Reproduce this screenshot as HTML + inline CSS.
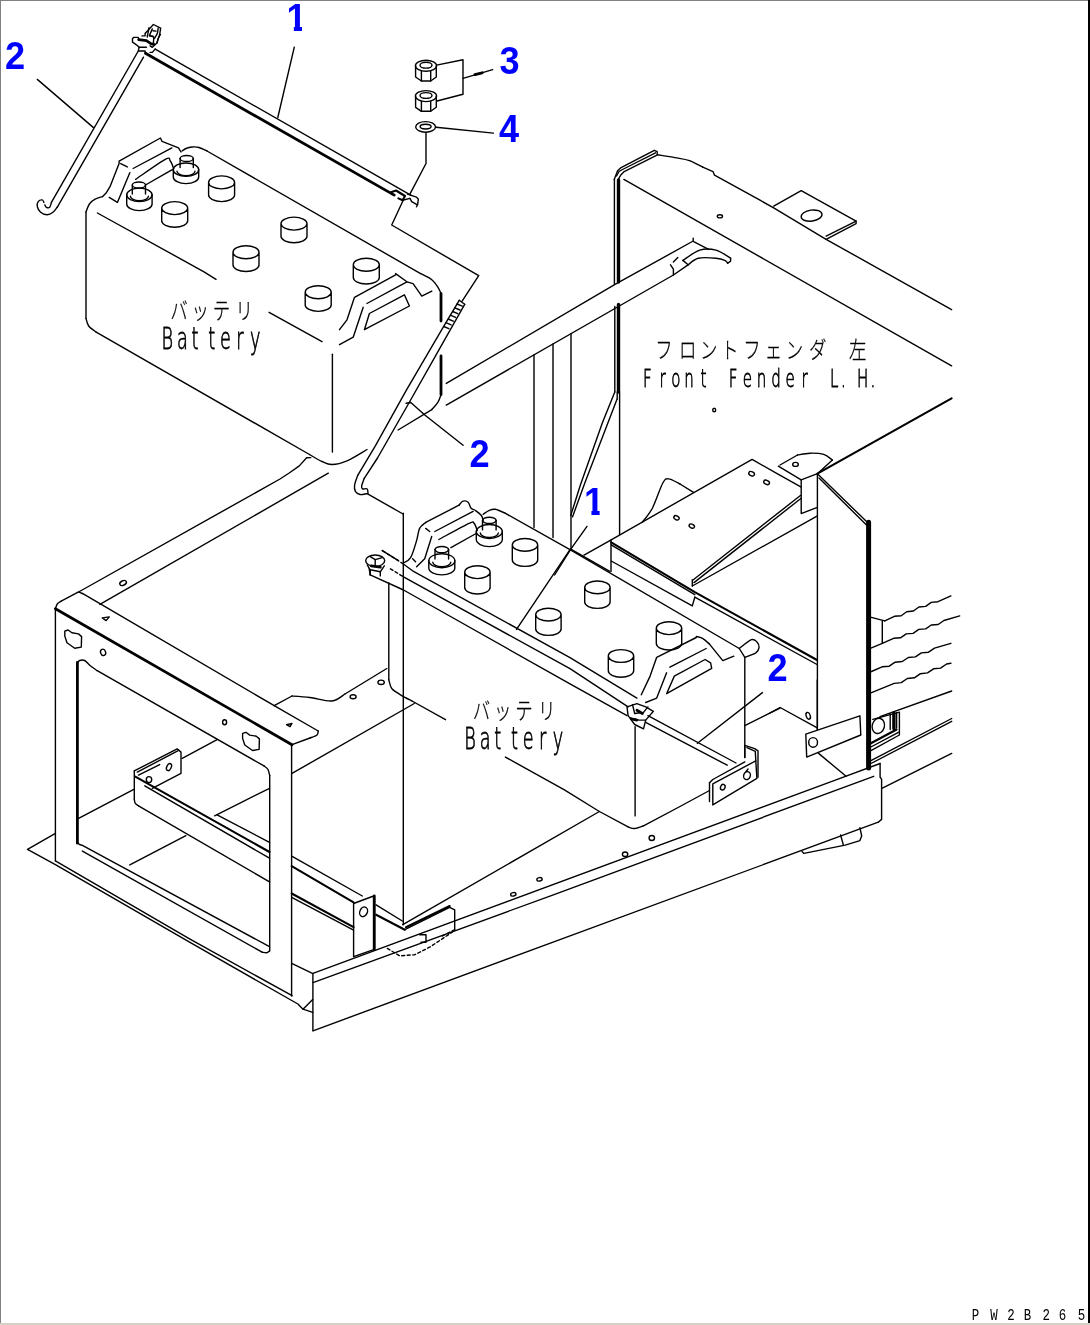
<!DOCTYPE html>
<html lang="ja"><head><meta charset="utf-8"><title>Battery</title>
<style>
html,body{margin:0;padding:0;background:#fff}
body{width:1090px;height:1325px;position:relative;overflow:hidden}
.b{position:absolute}
svg{position:absolute;left:0;top:0;will-change:transform}
.k{fill:none;stroke:#000;stroke-width:1.4;stroke-linecap:round;stroke-linejoin:round}
.k2{stroke-width:2.1}.k3{stroke-width:2.8}.k4{stroke-width:5}.k5{stroke-width:3.4}.k6{stroke-dasharray:3 2.5}
.n{font:bold 38.5px "Liberation Sans",sans-serif;fill:#00f}
.la{font-family:"DejaVu Sans","Liberation Sans",sans-serif;font-weight:200;fill:#000;stroke:#000;stroke-width:0.8px}
.jp{font-family:"Liberation Sans","Noto Sans CJK JP",sans-serif;font-weight:300;fill:#000;stroke:#000;stroke-width:0.25px}
.pw{font-family:"Liberation Mono",monospace;fill:#000}
</style></head><body>
<div class="b" style="left:0;top:0;width:1090px;height:1px;background:#808080"></div><div class="b" style="left:0;top:0;width:1px;height:1323px;background:#808080"></div><div class="b" style="left:1088px;top:0;width:2px;height:1323px;background:#000"></div><div class="b" style="left:0;top:1323px;width:1090px;height:2px;background:#d4d0c8"></div>
<svg width="1090" height="1325" viewBox="0 0 1090 1325">
<g class="k">
<path d="M37.3 79.4 L93.5 127.6"/>
<path d="M138.3 51 L51.4 202.4"/>
<path d="M143.5 57.2 L57.2 207.3"/>
<path d="M57.2 207.3 C56.5 208.1 54.7 211.1 53 212.3 C51.3 213.6 49.3 214.8 47.2 214.8 C45.1 214.8 42.2 213.7 40.6 212.3 C39.0 210.9 37.7 208.3 37.3 206.5 C36.9 204.7 37.4 202.7 38.2 201.6 C39.0 200.5 41.3 199.8 42.3 199.9 C43.2 200.0 43.6 202.0 43.9 202.4"/>
<path d="M51.4 202.4 C51.1 203.2 50.5 206.5 49.7 207.3 C48.9 208.1 47.2 207.7 46.4 207.3 C45.6 206.9 45.1 205.3 44.8 204.9"/>
<path d="M139.1 39.2 L138 37.4 L133.9 37.4 L132.5 38.5 L132.5 42.2 L134.7 43.6 L137.6 45.8 L139.1 47.3 L138.3 51 L145 51 L145.7 53.2"/>
<path d="M139.1 47.3 L146.4 47.3"/>
<path d="M145.3 33.3 L153.4 24.5 L160.7 28.2 L159.6 34.8 L156.7 43.3 L152.3 47.3 L150.1 45.8"/>
<path d="M149 27.8 L147.2 37"/>
<path d="M152.3 28.9 L149.4 35.6 L153.8 37 L153.4 43.6"/>
<path d="M158.2 28.2 L157.4 33.3 L154.5 38.5"/>
<path d="M160.4 34.4 L158.2 38.5 L157.1 42.9"/>
<path d="M142 35.9 L145 35.9 L145.3 33.3"/>
<path d="M149.4 35.9 L153 36.3"/>
<path d="M153 30.8 L156 31.1"/>
<path d="M150.1 52.4 L152.3 52.4 L155.2 49.1"/>
<path d="M155.2 49.1 L410.7 195.1"/>
<path d="M294.3 47.1 L277.8 117.5"/>
<path d="M86 318.5 C86.5 319.8 87.0 323.7 88.7 326 C90.4 328.3 95.0 331.2 96.2 332.2"/>
<path d="M86 212 L86 318.5"/>
<path d="M96.2 332.2 L309.5 454.5"/>
<path d="M309.5 454.5 C311.6 455.7 318.2 459.8 322 461.5 C325.8 463.2 327.8 464.6 332 464.5 C336.2 464.4 341.2 463.3 347 460.8 C352.8 458.3 363.7 451.4 367 449.5"/>
<path d="M398.1 430 L431.8 409.6"/>
<path d="M431.8 409.6 C432.8 408.4 436.5 404.6 438 402.1 C439.5 399.6 440.5 395.9 441 394.6"/>
<path d="M441 293.6 C440.5 292.6 439.5 289.6 438 287.3 C436.5 285.0 434.7 282.1 431.8 279.8 C428.9 277.5 422.5 274.6 420.6 273.6"/>
<path d="M420.6 273.6 L207 151"/>
<path d="M207 151 C205.7 150.4 201.5 148.2 199 147.5 C196.5 146.8 194.2 146.8 192 147 C189.8 147.2 187.7 147.8 186 148.5 C184.3 149.2 182.7 150.6 182 151"/>
<path d="M86 212 C86.6 210.7 87.9 206.2 89.4 204 C90.9 201.8 92.9 200.3 95.1 199.1 C97.3 197.9 101.3 197.0 102.6 196.6"/>
<path d="M102.6 196.6 L105.9 193.3 L110 186.7 L119.1 163.6 L119.1 161.1 L160.4 138 L162 141.3 L178.5 147.9 L181 152"/>
<path d="M97.4 213 L204 271.8 L216 279.3"/>
<path d="M269.1 312.3 L322 341.7"/>
<path d="M332.4 354.2 L332.4 452"/>
<path d="M120.7 163.6 L127.3 166.9"/>
<path d="M133.1 168.5 L171.9 147.9"/>
<path d="M129.8 172.7 L117.4 202.4 L109.2 197.4"/>
<path d="M135.6 179.3 C140.6 176.0 159.5 162.4 165.3 159.4 C171.1 156.4 168.9 159.6 170.3 161.1 C171.7 162.6 173.1 167.3 173.6 168.5"/>
<path d="M145.5 185 L167 172.7 L172.8 169.4"/>
<path d="M132.3 185 L132.3 194"/>
<path d="M145.5 185 L145.5 194"/>
<path d="M126.7 194.8 L126.7 203.9 A12.7 6.7 0 0 0 152.1 203.9 L152.1 194.8"/>
<path d="M130.4 196.3 A9 4.5 0 0 0 148.4 196.3"/>
<path d="M180.1 158.5 L180.1 167.5"/>
<path d="M193.3 158.5 L193.3 167.5"/>
<path d="M173.3 169.7 L173.3 176.9 A12.7 6.7 0 0 0 198.7 176.9 L198.7 169.7"/>
<path d="M177 171.2 A9 4.5 0 0 0 195 171.2"/>
<path d="M208.6 182.4 A13.0 6.5 0 1 1 234.6 182.4 L234.6 195.1 A13.0 6.5 0 0 1 208.6 195.1 Z M208.6 182.4 A13.0 6.5 0 0 0 234.6 182.4"/>
<path d="M161.7 208.1 A13.0 6.5 0 1 1 187.7 208.1 L187.7 220.8 A13.0 6.5 0 0 1 161.7 220.8 Z M161.7 208.1 A13.0 6.5 0 0 0 187.7 208.1"/>
<path d="M233.0 252.3 A13.0 6.5 0 1 1 259.0 252.3 L259.0 265.0 A13.0 6.5 0 0 1 233.0 265.0 Z M233.0 252.3 A13.0 6.5 0 0 0 259.0 252.3"/>
<path d="M281.0 223.6 A13.0 6.5 0 1 1 307.0 223.6 L307.0 236.3 A13.0 6.5 0 0 1 281.0 236.3 Z M281.0 223.6 A13.0 6.5 0 0 0 307.0 223.6"/>
<path d="M353.3 264.8 A13.0 6.5 0 1 1 379.3 264.8 L379.3 277.5 A13.0 6.5 0 0 1 353.3 277.5 Z M353.3 264.8 A13.0 6.5 0 0 0 379.3 264.8"/>
<path d="M305.2 292.2 A13.0 6.5 0 1 1 331.2 292.2 L331.2 304.9 A13.0 6.5 0 0 1 305.2 304.9 Z M305.2 292.2 A13.0 6.5 0 0 0 331.2 292.2"/>
<path d="M395.6 273.6 L406.9 281.8 L413.1 283.6 L421.8 296.1 L431.8 291.1"/>
<path d="M395.6 274.8 L354.5 297.3 L347 319.8 L339.5 329.7"/>
<path d="M406.9 281.8 L366.9 303.5"/>
<path d="M404.4 294.8 L369.4 313.5 L364.4 329.7 L409.4 306 Z"/>
<path d="M363.2 307.3 L353.2 337.2 L339.5 344.7"/>
<path d="M415.6 65.8 L415.6 77 L421.4 81 L430.7 81 L436.3 77 L436.3 65.8"/>
<path d="M421.4 71 L421.4 81"/>
<path d="M430.7 71 L430.7 81"/>
<path d="M415.6 96.1 L415.6 107.3 L421.4 111.3 L430.7 111.3 L436.3 107.3 L436.3 96.1"/>
<path d="M421.4 101.3 L421.4 111.3"/>
<path d="M430.7 101.3 L430.7 111.3"/>
<path d="M436.6 65.1 L463 59.8 L463 94.2 L437 101"/>
<path d="M463 78.3 L492.7 69.7"/>
<path d="M436 127.2 L493.4 133.1"/>
<path d="M426 132.5 L426 163.5 L409.9 194.2"/>
<path d="M403.2 200.2 L391.7 225 L478.7 275.7 L461.8 301.6"/>
<path d="M407.4 194.2 L416.5 197.2 L418.3 199 L417.7 204.4 L416.5 206.8"/>
<path d="M409.9 198.4 L411.7 201.6 L416.5 204.4"/>
<path d="M402.6 200.2 L409.9 198.4"/>
<path d="M459.2 300.3 L440.9 331.2 L406.1 390.6 L375.2 446.1 L357.7 475.4"/>
<path d="M357.7 475.4 C357.2 477.0 355.0 482.4 354.6 485 C354.2 487.6 354.5 489.7 355.4 491.3 C356.3 492.9 358.2 494.1 360.1 494.5 C362.0 494.9 365.4 493.8 366.5 493.7"/>
<path d="M464.7 304.3 L440.9 346.3 L409.2 402.5 L377.5 458 L364.1 478.6"/>
<path d="M364.1 478.6 C363.7 479.8 362.0 484.0 361.7 485.7 C361.4 487.4 361.6 488.4 362.5 488.9 C363.4 489.4 366.3 488.1 367.2 488.9 C368.1 489.7 367.9 492.9 368 493.7"/>
<path d="M459.2 300.3 L464.7 304.3"/>
<path d="M457 304 L462.2 306.2"/>
<path d="M454.8 307.8 L460 310"/>
<path d="M452.6 311.5 L457.8 313.7"/>
<path d="M450.4 315.2 L455.6 317.4"/>
<path d="M448.1 319 L453.3 321.2"/>
<path d="M445.9 322.7 L451.1 324.9"/>
<path d="M443.7 326.5 L448.9 328.7"/>
<path d="M406.1 403.3 L410.8 402.5 L425.1 415.2 L463.1 445.3"/>
<path d="M367.2 493.7 L403 514"/>
<path d="M446.3 383.4 L614.6 284.7 L693.2 241 L693.2 238.3"/>
<path d="M446.3 405.1 L673.4 275 L688.1 264.8"/>
<path d="M693.2 241.3 L708.6 249.4"/>
<path d="M682.9 260.4 C685.7 258.7 694.3 251.8 699.8 250.1 C705.3 248.4 710.9 248.8 716 250.1 C721.1 251.4 728.2 256.8 730.6 258.2"/>
<path d="M688.1 264.8 C689.8 263.7 693.6 259.3 698.3 258.2 C702.9 257.1 711.6 257.8 716 258.2 C720.4 258.6 722.8 259.5 724.8 260.4 C726.8 261.2 727.2 262.8 727.7 263.3"/>
<path d="M727.7 263.3 L730.6 261.1 L730.6 258.2"/>
<path d="M673.4 275 L673.4 269.2 L670.5 264.8"/>
<path d="M673.4 262 L677.8 257.5"/>
<path d="M682.9 260.4 L688.1 264.8"/>
<path d="M534 354.8 L534 527.5"/>
<path d="M553 344 L553 537.5"/>
<path d="M571 333.6 L571 549"/>
<path d="M614.4 284.5 L614.4 179.6"/>
<path d="M614.8 392 L614.8 306.5"/>
<path d="M617.2 399 L617.2 392"/>
<path d="M619.6 534.5 L619.6 392"/>
<path d="M614.2 179.6 L617.6 170.8 L620.6 167.9 L654.3 150.3 L657.2 151.7 L657.2 154.7"/>
<path d="M618.3 179.6 L620.6 175.2 L624.2 171.6 L656.5 155.4"/>
<path d="M616.5 176 L619 171.5 L622.5 169.5 L655.5 152.8"/>
<path d="M657.2 154.7 C660.2 155.2 669.5 156.6 674.9 157.6 C680.3 158.6 684.9 159.0 689.5 160.6 C694.1 162.2 700.6 166.1 702.8 167.2"/>
<path d="M702.8 167.2 L713 171.6 L714.5 175.2 L760 200.2 L773.7 207.9 L826.1 239.3 L951.6 309.7"/>
<path d="M623.9 179.4 L951.6 365.8"/>
<path d="M773.7 206.1 L801.2 190.6 L856.1 221.1 L856.1 223.6 L826.1 239.3"/>
<path d="M826.1 236.1 L856.1 221.1"/>
<path d="M614.8 392 L602.4 422.7 L580.3 485.2 L570.8 515.4"/>
<path d="M617.1 399.1 L584.8 483 L572.5 516.9"/>
<path d="M587 526.4 L570.8 549.2 L554.6 575"/>
<path d="M55.4 608.7 L55.4 860.7"/>
<path d="M55.4 608.7 C55.7 607.9 56.4 605.0 57.4 603.7 C58.4 602.5 60.6 601.6 61.2 601.2"/>
<path d="M61.2 601.2 L78.6 591.9 L82.4 593.7"/>
<path d="M82.4 593.3 L274.2 705.7 L318.2 731"/>
<path d="M318.2 731 C318.0 731.7 318.4 733.8 317 735 C315.6 736.2 311.2 737.5 310 738"/>
<path d="M310 738 L292 744.7"/>
<path d="M78.6 592 L280 479 L289.2 473 L299.3 465.9 L306.6 457.8 L310.7 457.6"/>
<path d="M99.9 604.4 L328.3 473.2"/>
<path d="M274.2 705.7 L292 696"/>
<path d="M292 696 C295.0 696.2 303.4 696.7 310 697.5 C316.6 698.3 326.1 701.6 331.9 701 C337.7 700.4 342.8 695.2 345 694"/>
<path d="M345 694 L386.8 668.5"/>
<path d="M292 773.4 L414.3 703.5"/>
<path d="M77.4 663 C77.8 662.6 78.4 660.9 79.6 660.5 C80.8 660.1 82.9 659.7 84.6 660.5 C86.3 661.3 87.9 663.8 90 665.5 C92.1 667.2 96.0 669.8 97.2 670.7"/>
<path d="M97.2 670.7 L264 765.9"/>
<path d="M264 765.9 C264.7 766.5 267.1 767.9 268 769.5 C268.9 771.1 269.4 774.5 269.7 775.5"/>
<path d="M269.7 775.5 L269.7 951"/>
<path d="M77.4 842.4 C77.7 842.7 78.6 843.9 79.4 844.4 C80.2 844.9 81.9 845.2 82.4 845.4"/>
<path d="M82.4 845.4 L269.5 946.7"/>
<path d="M82.4 851.1 L262.1 952.2"/>
<path d="M262.1 952.2 C262.9 952.3 265.8 952.9 267 952.7 C268.2 952.5 269.1 951.2 269.5 950.9"/>
<path d="M291.6 744.7 L291.6 996"/>
<path d="M55 833.7 L27.5 849.4 L55.4 864.6 L190 942.4 L297.9 1004 L303 1009.2 L312.7 1012.4"/>
<path d="M55.4 860.9 L190 939.2 L292.1 995.7"/>
<path d="M102.3 617.9 L109.3 616.9 L106.1 620.6 Z"/>
<path d="M64.8 631.1 L68.1 630 L71.9 632.8 L78.5 633.9 L81.6 636.6 L81.3 647.1 L74.7 648.2 L67 642.7 L64.8 636.1 Z"/>
<path d="M242.6 733.4 L245.9 732.3 L249.7 735.1 L256.3 736.2 L259.4 738.9 L259.1 749.4 L252.5 750.5 L244.8 745 L242.6 738.4 Z"/>
<path d="M286.5 724.7 L292 723.4 L290 726.7 Z"/>
<path d="M134.3 770.9 L177.2 748.9 L181 752.1 L181 773.4 L152.3 788.3"/>
<path d="M134.3 770.9 L134.3 799.6"/>
<path d="M134.3 799.6 C134.5 800.2 134.6 802.3 135.3 803.3 C136.0 804.3 138.0 805.4 138.5 805.8"/>
<path d="M138.5 805.8 L269.5 881.9"/>
<path d="M137.3 772.1 L177.7 750.9"/>
<path d="M138.5 775.1 L159.7 764.6"/>
<path d="M144.8 785.8 L269.5 858.2"/>
<path d="M78.6 818.3 L134.3 789.1"/>
<path d="M182.2 758.4 L217.1 739.7"/>
<path d="M214.6 815.8 L269.5 788.3"/>
<path d="M129.8 864.9 L185.9 835.7"/>
<path d="M217.1 814.9 L269.5 842.4"/>
<path d="M403.3 513.3 L403.3 924.7"/>
<path d="M312.9 973.4 L312.9 1030.8"/>
<path d="M313 1030.8 L878.3 822.2"/>
<path d="M313 973.4 L836 779.9 L880.1 763.5"/>
<path d="M313 982.6 L552 895.3 L873.7 776.3"/>
<path d="M291.7 963.4 L312.4 973.4"/>
<path d="M303 1009.2 L312.7 999.5"/>
<path d="M353.6 903.5 L373.6 896 L373.6 949.7 L353.6 956.7 Z"/>
<path d="M291.7 856.1 L362.3 896"/>
<path d="M291.7 897.3 L353.6 930.2"/>
<path d="M376.1 904.8 L402.3 921"/>
<path d="M402.8 924.7 L599.4 811.5"/>
<path d="M404.8 929.7 L449.7 907.3 L454.7 909.8 L454.7 929.7"/>
<path d="M419.7 934.7 L426 934.7 L426 942.2 L421 942.2"/>
<path d="M880.1 763.5 L880.1 777.2 L881.6 779.1 L881.6 819.4 L878.3 822.2"/>
<path d="M859.9 827.7 L861.7 836 L859.9 840.6 L845.2 845.1 L803.9 853.4 L802.1 851.6"/>
<path d="M840.6 835 L843.4 845.1"/>
<path d="M805.8 734.1 L859.9 715.8 L860.8 735 L806.7 757.1 Z"/>
<path d="M818.6 753.4 L846.1 776.3"/>
<path d="M817.3 680 L817.3 729.5"/>
<path d="M770 713 L780.1 707.5 L816.8 727.7"/>
<path d="M388.8 583 L388.8 679.8"/>
<path d="M388.8 679.8 C389.3 681.2 389.9 686.0 391.8 688.5 C393.8 691.0 397.1 692.7 400.5 694.8 C403.9 696.9 410.1 700.0 412 701"/>
<path d="M412 701 L445.5 719.7"/>
<path d="M505.4 757.1 L564 789.6 L599.4 811.5 L628.1 826.9"/>
<path d="M628.1 826.9 C629.2 827.2 632.1 828.7 634.7 828.5 C637.3 828.3 642.0 826.2 643.5 825.8"/>
<path d="M643.5 825.8 L680.9 806 L709.5 790.5"/>
<path d="M635.1 726.7 L635.1 815.9"/>
<path d="M744.8 657.3 L744.8 757.5"/>
<path d="M483.2 514.3 C484.2 513.6 487.3 511.1 489.3 510.3 C491.3 509.5 492.6 508.8 495.3 509.3 C498.0 509.8 503.7 512.6 505.4 513.3"/>
<path d="M505.4 513.3 L570 549.6 L739.3 648.5"/>
<path d="M739.3 648.5 C741.3 647.0 748.5 640.8 751.4 639.7 C754.3 638.6 755.6 640.6 756.9 641.9 C758.2 643.2 759.3 645.6 759.1 647.4 C758.9 649.2 758.2 651.2 755.8 652.9 C753.4 654.5 746.6 656.6 744.8 657.3"/>
<path d="M739.3 648.5 L744.8 657.3"/>
<path d="M403.5 562.8 C404.7 561.9 408.4 561.4 410.6 557.7 C412.8 554.0 415.1 545.5 416.6 540.6 C418.1 535.7 418.1 531.4 419.6 528.4 C421.1 525.4 424.7 523.4 425.7 522.4"/>
<path d="M425.7 522.4 L459 505.2"/>
<path d="M459 505.2 C459.7 504.5 461.5 501.7 463 501.2 C464.5 500.7 466.8 501.0 468.1 502.2 C469.5 503.4 469.9 506.9 471.1 508.3 C472.3 509.7 473.4 509.1 475.1 510.3 C476.8 511.5 479.9 513.6 481.2 515.3 C482.5 517.0 482.9 519.5 483.2 520.4"/>
<path d="M434.8 531.5 L473.1 511.3"/>
<path d="M438.8 539.5 C443.9 536.8 463.2 526.1 469.1 523.4 C475.0 520.7 472.8 522.2 474.1 523.4 C475.5 524.6 476.7 529.3 477.2 530.5"/>
<path d="M450.9 547.6 L476.1 533.5"/>
<path d="M431.7 536.5 L424.7 558.7 L416.6 566.8"/>
<path d="M425.7 528.4 L429.7 531.5"/>
<path d="M412.6 558.7 L415.6 561.7"/>
<path d="M435 549.6 L435 559.1"/>
<path d="M448.6 549.6 L448.6 559.1"/>
<path d="M428.8 560.7 L428.8 567.9 A13 7 0 0 0 454.8 567.9 L454.8 560.7"/>
<path d="M432.8 562.2 A9 4.5 0 0 0 450.8 562.2"/>
<path d="M482.5 520.4 L482.5 529.9"/>
<path d="M496.1 520.4 L496.1 529.9"/>
<path d="M476.3 531.5 L476.3 539.6 A13 7 0 0 0 502.3 539.6 L502.3 531.5"/>
<path d="M480.3 533 A9 4.5 0 0 0 498.3 533"/>
<path d="M512.3 544.9 A12.7 6.4 0 1 1 537.7 544.9 L537.7 560.0 A12.7 6.4 0 0 1 512.3 560.0 Z M512.3 544.9 A12.7 6.4 0 0 0 537.7 544.9"/>
<path d="M464.7 572.2 A12.7 6.4 0 1 1 490.1 572.2 L490.1 587.6 A12.7 6.4 0 0 1 464.7 587.6 Z M464.7 572.2 A12.7 6.4 0 0 0 490.1 572.2"/>
<path d="M535.7 614.6 A12.7 6.4 0 1 1 561.1 614.6 L561.1 629.0 A12.7 6.4 0 0 1 535.7 629.0 Z M535.7 614.6 A12.7 6.4 0 0 0 561.1 614.6"/>
<path d="M584.7 587.4 A12.7 6.4 0 1 1 610.1 587.4 L610.1 602.0 A12.7 6.4 0 0 1 584.7 602.0 Z M584.7 587.4 A12.7 6.4 0 0 0 610.1 587.4"/>
<path d="M656.3 628.2 A12.7 6.4 0 1 1 681.7 628.2 L681.7 643.6 A12.7 6.4 0 0 1 656.3 643.6 Z M656.3 628.2 A12.7 6.4 0 0 0 681.7 628.2"/>
<path d="M608.3 656.0 A12.7 6.4 0 1 1 633.7 656.0 L633.7 670.8 A12.7 6.4 0 0 1 608.3 670.8 Z M608.3 656.0 A12.7 6.4 0 0 0 633.7 656.0"/>
<path d="M696.3 636.4 C697.4 636.8 700.7 637.3 702.9 638.6 C705.1 639.9 708.4 643.2 709.5 644.1"/>
<path d="M709.5 644.1 L722.8 660.6 L733.8 656.2"/>
<path d="M696.3 637.5 L656.7 657.3 L650.1 676.1 L641.3 694.8"/>
<path d="M669.9 667.2 L706.2 648.5"/>
<path d="M674.3 676.1 L705.1 659.5 L710.6 662.8 L711.7 668.3 L666.6 693.7 Z"/>
<path d="M666.6 672.8 L656.7 698.1 L645.7 702.5"/>
<path d="M403.3 564 L412.6 570.8 L570 657.6 L636.9 698.1"/>
<path d="M403.5 576.9 L570 668.7 L628.1 706.9"/>
<path d="M370.2 574.9 L403.5 590 L570 683.9 L627 715.7"/>
<path d="M647.9 715.7 L736 763"/>
<path d="M645.7 722.3 L727.2 765.2"/>
<path d="M369.2 568.8 L370.2 574.9"/>
<path d="M382.3 550.6 L398.4 560.7"/>
<path d="M367.2 564.8 L370.2 569.8 L380.3 571.8 L384.3 565.8"/>
<path d="M370.2 569.8 L370.2 574.9"/>
<path d="M380.3 571.8 L380.3 575.9"/>
<path d="M370.2 556.7 L375.2 559.7 L382.3 557.7"/>
<path d="M375.2 559.7 L375.2 564.8"/>
<path d="M627 706.9 L636.9 703.6 L645.7 706.9 L653.4 711.3 L645.7 720.1 L643.5 728.9 L634.7 724.5 L628.1 715.7 Z"/>
<path d="M632.5 704.7 L634.7 713.5 L643.5 712.4 L647.9 706.9"/>
<path d="M630.3 717.9 L639.1 720.1 L645.7 720.1"/>
<path d="M570 549.6 L516.5 629.4"/>
<path d="M762.4 692.6 L697.4 743.2"/>
<path d="M712.8 783.9 L755.8 760.8 L756.9 778.4 L712.8 804.9 Z"/>
<path d="M709.5 782.8 L709.5 801.6"/>
<path d="M709.5 782.8 L712.8 779.5 L744.8 761.9"/>
<path d="M744.8 745.4 L754.7 748.7 L758 750.9 L758 777.3"/>
<path d="M744.8 745.4 L744.8 757.5"/>
<path d="M747 747.6 L755.3 751.4 L755.8 760.8"/>
<path d="M745.9 771.8 L748.1 769"/>
<path d="M744.8 725.6 L780 708"/>
<path d="M584 555.1 L611.2 539.8 L752.1 459.4 L777.1 473.7 L800.8 486.9"/>
<path d="M642.3 522.3 C644.0 519.9 649.1 514.5 652.5 508 C655.9 501.4 660.1 487.9 662.8 483 C665.5 478.1 665.7 478.7 668.6 478.9 C671.5 479.1 678.1 483.1 680 484"/>
<path d="M680 484 L693.5 492.4"/>
<path d="M611 540 L611 571.5"/>
<path d="M611.2 561 L692.3 605.9 L694.8 597.2"/>
<path d="M694.8 597.2 L817 664.5"/>
<path d="M611.2 544.8 L694.8 594.7"/>
<path d="M693 580 L800.4 495.5"/>
<path d="M694 582.6 L801.2 498.2"/>
<path d="M692.3 586 L817 516.1"/>
<path d="M692.3 579.7 L692.3 586"/>
<path d="M609.8 571.3 L570.8 549.2"/>
<path d="M780 465 L797.5 455"/>
<path d="M797.5 455 C799.6 454.7 805.6 453.3 810 453.2 C814.4 453.1 820.0 453.3 823.7 454.4 C827.4 455.5 831.0 459.1 832.4 460"/>
<path d="M778.3 466.2 L801.2 479.9"/>
<path d="M832.4 460 L817.4 473.7 L801.2 479.9 L801.2 513.6 L817.4 507.3"/>
<path d="M817.4 473.7 L817.4 729.5"/>
<path d="M817.4 473.7 L867.3 522.3"/>
<path d="M819 478 L866.5 525"/>
<path d="M870.3 617.1 L884.8 620.9"/>
<path d="M884.8 620.9 L894.4 616.3 L901.2 615.7 L906.7 611.7 L913.4 611 L918.9 607 L925.7 606.4 L931.2 602.4 L938 601.7 L950.9 595.9"/>
<path d="M882.3 620.9 L882.3 643.3"/>
<path d="M870.3 648.3 L882.3 643.3"/>
<path d="M882.3 643.3 L893.6 638.3 L900.5 637.8 L906.2 633.9 L913.1 633.4 L918.8 629.4 L925.7 628.9 L931.3 625 L938.2 624.5 L943.9 620.5 L959.7 615.9"/>
<path d="M870.3 672 L882.1 666.8 L889.2 666.2 L895.2 662.2 L902.3 661.5 L908.3 657.5 L915.4 656.9 L921.4 652.9 L928.5 652.2 L934.5 648.2 L950.9 643.3"/>
<path d="M870.3 693.2 L894.2 683.4 L901.3 682.6 L907.3 678.5 L914.4 677.8 L920.4 673.7 L927.5 672.9 L933.5 668.8 L940.6 668.1 L946.6 664 L950.9 663.3"/>
<path d="M880 716.7 L951.7 691"/>
<path d="M870.9 763.5 L951.7 721.3"/>
<path d="M870.9 760.7 L951.7 718.5"/>
<path d="M881.9 788.3 L951.7 753.4"/>
<path d="M872.8 719.4 L889.3 714.9 L899.4 712.1 L899.4 735 L870.9 750.6"/>
<path d="M890.2 713.9 L890.2 729.5"/>
<path d="M896.6 712.7 L896.6 728.1"/>
<path d="M870.9 747 L898.4 732.3"/>
</g>
<g class="k k3">
<path d="M138.7 39.6 L146.4 40.7 L150.8 43.6 L153.8 44.4"/>
<path d="M145.5 53.3 L394.2 195.1"/>
<path d="M441 293.6 L441 321"/>
<path d="M441 356 L441 394.6"/>
<path d="M474.9 74.6 L482.2 72.8"/>
<path d="M55.4 608.7 L292 744.7"/>
<path d="M77.4 662.3 L77.4 843.2"/>
<path d="M374.3 896 L374.3 949.7"/>
<path d="M371.2 565.8 L380.3 567.2"/>
<path d="M636.9 710.2 L642.4 713.5"/>
<path d="M631.4 719 L636.9 720.1"/>
</g>
<g class="k k2">
<path d="M391.1 192.3 L396 190.5 L405 196 L402.6 200.2 L398.4 198.4"/>
<path d="M951.6 398.3 L817.4 473.7"/>
<path d="M135.3 776.6 L269.5 852"/>
<path d="M291.7 866.1 L353.6 902.3"/>
<path d="M291.7 893.5 L353.6 927.2"/>
<path d="M376.1 914.8 L404.8 929.7"/>
<path d="M406 927.2 L449.7 906"/>
<path d="M611.2 542.3 L694.8 592.2 L817 660"/>
<path d="M870.9 743.3 L896.6 729.5"/>
</g>
<g class="k k5">
<path d="M618.5 282 L618.5 180"/>
<path d="M618.5 392 L618.5 304.5"/>
<path d="M893.9 713 L893.9 728.6"/>
</g>
<g class="k k6">
<path d="M454.7 929.7 L442.2 936"/>
<path d="M387.3 948.4 L399.8 955.9 L414.8 954.7 L429.7 947.2 L452.2 932.2"/>
<path d="M382.3 550.6 L398.4 560.7 L403.3 564"/>
<path d="M390.4 568.8 L403.5 576.9"/>
</g>
<g class="k k4">
<path d="M868.6 522.3 L868.6 768"/>
</g>
<g class="k">
<ellipse cx="138.9" cy="185" rx="6.6" ry="3"/>
<ellipse cx="139.4" cy="194.8" rx="12.7" ry="6.7"/>
<ellipse cx="186.7" cy="158.5" rx="6.6" ry="3"/>
<ellipse cx="186" cy="169.7" rx="12.7" ry="6.7"/>
<ellipse cx="426" cy="65.8" rx="10.6" ry="5.5"/>
<ellipse cx="426" cy="65.2" rx="6" ry="2.9"/>
<ellipse cx="426" cy="96.1" rx="10.6" ry="5.5"/>
<ellipse cx="426" cy="95.5" rx="6" ry="2.9"/>
<ellipse cx="425.6" cy="126.9" rx="9.9" ry="5.3"/>
<ellipse cx="425.6" cy="126.6" rx="5.5" ry="2.4"/>
<ellipse cx="811.6" cy="215.6" rx="10.5" ry="5.5" transform="rotate(-8 811.6 215.6)"/>
<ellipse cx="719.9" cy="216.3" rx="2.6" ry="1.6"/>
<ellipse cx="714.2" cy="410" rx="1.5" ry="1.8"/>
<ellipse cx="381.1" cy="682.3" rx="3.2" ry="2.2"/>
<ellipse cx="353.1" cy="696.8" rx="3" ry="2"/>
<ellipse cx="123.1" cy="583" rx="3.5" ry="2.2" transform="rotate(-25 123.1 583)"/>
<ellipse cx="103.1" cy="652.3" rx="2.5" ry="3.2" transform="rotate(-20 103.1 652.3)"/>
<ellipse cx="224.6" cy="722.2" rx="2" ry="2.5"/>
<ellipse cx="169" cy="767.1" rx="2.2" ry="3.7" transform="rotate(25 169 767.1)"/>
<ellipse cx="149" cy="779.6" rx="2.7" ry="3"/>
<ellipse cx="363.6" cy="911.8" rx="3.7" ry="5" transform="rotate(25 363.6 911.8)"/>
<ellipse cx="513.3" cy="894.3" rx="2.7" ry="1.7" transform="rotate(-10 513.3 894.3)"/>
<ellipse cx="539.5" cy="879.3" rx="2.7" ry="1.7" transform="rotate(-10 539.5 879.3)"/>
<ellipse cx="813.1" cy="742.4" rx="4.4" ry="4.8"/>
<ellipse cx="808.2" cy="715.8" rx="2" ry="3.5" transform="rotate(-20 808.2 715.8)"/>
<ellipse cx="651.8" cy="838" rx="2.7" ry="2.5"/>
<ellipse cx="625.1" cy="854.2" rx="2.7" ry="2.2"/>
<ellipse cx="441.8" cy="549.6" rx="6.8" ry="3.1"/>
<ellipse cx="441.8" cy="560.7" rx="13" ry="7"/>
<ellipse cx="489.3" cy="520.4" rx="6.8" ry="3.1"/>
<ellipse cx="489.3" cy="531.5" rx="13" ry="7"/>
<ellipse cx="375.2" cy="560.7" rx="9.5" ry="5.7"/>
<ellipse cx="722.8" cy="787.2" rx="2.2" ry="2.9" transform="rotate(25 722.8 787.2)"/>
<ellipse cx="747" cy="775.6" rx="3.3" ry="4" transform="rotate(20 747 775.6)"/>
<ellipse cx="751.6" cy="473.7" rx="3" ry="2" transform="rotate(25 751.6 473.7)"/>
<ellipse cx="766.6" cy="482.4" rx="3" ry="2" transform="rotate(25 766.6 482.4)"/>
<ellipse cx="676.5" cy="517.8" rx="2.8" ry="1.9" transform="rotate(25 676.5 517.8)"/>
<ellipse cx="691.8" cy="526.1" rx="2.8" ry="1.9" transform="rotate(25 691.8 526.1)"/>
<ellipse cx="795.5" cy="464.4" rx="2.8" ry="2"/>
<ellipse cx="878.3" cy="725.9" rx="6.1" ry="7.7" transform="rotate(15 878.3 725.9)"/>
</g>
<defs><clipPath id="c1"><polygon points="0,-33 16.6,-33 16.6,1 7.9,1 7.9,-5 0,-5"/></clipPath></defs>
<text x="0" y="0" class="n" transform="translate(5 69.1) scale(0.94 1)">2</text>
<text x="0" y="0" class="n" transform="translate(286.4 30.9) scale(0.94 1)" clip-path="url(#c1)">1</text>
<text x="0" y="0" class="n" transform="translate(499.5 74.1) scale(0.94 1)">3</text>
<text x="0" y="0" class="n" transform="translate(499 141.5) scale(0.94 1)">4</text>
<text x="0" y="0" class="n" transform="translate(469.5 467) scale(0.94 1)">2</text>
<text x="0" y="0" class="n" transform="translate(584 515.1) scale(0.94 1)" clip-path="url(#c1)">1</text>
<text x="0" y="0" class="n" transform="translate(767.5 681.3) scale(0.94 1)">2</text>
<text class="jp" font-size="23" text-anchor="middle" transform="translate(0 319) scale(0.76 1)" x="235.4 263.6 291.6 321.3" y="0">バッテリ</text>
<text class="la" font-size="29.4925" text-anchor="middle" transform="translate(0 348.8) scale(0.6 1)" x="278.8 304.0 325.0 353.0 375.7 400.0 425.3" y="0">Battery</text>
<text class="jp" font-size="23" text-anchor="middle" transform="translate(0 718.5) scale(0.76 1)" x="633.4 661.6 689.6 719.3" y="0">バッテリ</text>
<text class="la" font-size="29.4925" text-anchor="middle" transform="translate(0 748.5) scale(0.6 1)" x="783.3 808.5 829.5 857.5 880.2 904.5 929.8" y="0">Battery</text>
<text class="jp" font-size="23" text-anchor="middle" transform="translate(0 358) scale(0.76 1)" x="873.6 904.9 932.5 960.1 989.6 1017.9 1045.5 1075.9 1102.6 1128.7" y="0">フロントフェンダ 左</text>
<text class="la" font-size="25.1029" text-anchor="middle" transform="translate(0 386.5) scale(0.6 1)" x="1078.7 1104.2 1126.3 1148.5 1172.3 1197.8 1221.7 1245.5 1269.3 1293.2 1317.0 1340.8 1364.7 1390.2 1405.8 1437.8 1454.7" y="0">Front Fender L.H.</text>
<text class="pw" font-size="16.6" text-anchor="middle" transform="translate(0 1320) scale(0.75 1)" x="1300.7 1325.3 1348.0 1370.0 1395.1 1416.5 1442.0" y="0">PW2B265</text>
</svg>
</body></html>
